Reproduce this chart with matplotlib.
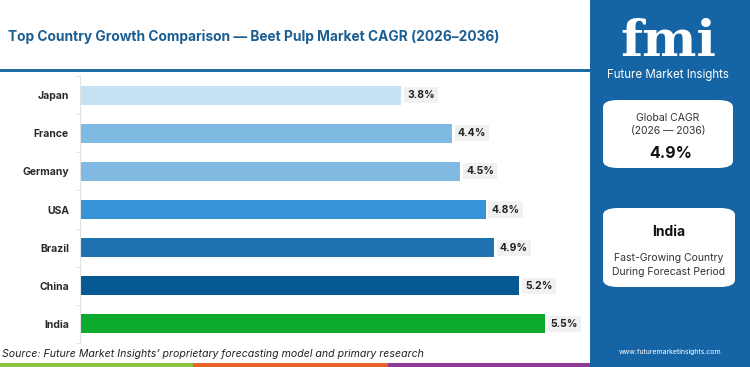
import matplotlib.pyplot as plt
from matplotlib.patches import Rectangle, FancyBboxPatch

# ── Data ──────────────────────────────────────────────────────────────────────
countries = ["Japan", "France", "Germany", "USA", "Brazil", "China", "India"]
cagr = [3.8, 4.4, 4.5, 4.8, 4.9, 5.2, 5.5]
bar_colors = ["#c4e2f3", "#7fbae2", "#80b9e1", "#3593d6", "#1f72b0", "#055a94", "#0aab2e"]
global_cagr = "4.9%"
top_country = "India"

TITLE = "Top Country Growth Comparison — Beet Pulp Market CAGR (2026–2036)"
SOURCE = "Source: Future Market Insights’ proprietary forecasting model and primary research"

W, H = 750, 367
PANEL = "#1565a6"
TITLE_C = "#1b5e92"

plt.rcParams["font.family"] = ["Inter", "DejaVu Sans"]

fig = plt.figure(figsize=(W / 100, H / 100), dpi=100)
fig.patch.set_facecolor("white")

def fx(px):
    return px / W

def fy(py):
    return 1 - py / H

# ── Title + rule ──────────────────────────────────────────────────────────────
fig.text(fx(8), fy(37), TITLE, fontsize=9.9, fontweight="bold", color=TITLE_C,
         ha="left", va="center")
fig.add_artist(Rectangle((0, fy(72)), fx(590), 3 / H, transform=fig.transFigure,
                         color="#1d6ba3", lw=0))

# ── Bars ──────────────────────────────────────────────────────────────────────
ax = fig.add_axes([fx(80), fy(343), fx(510), 267 / H])
y = list(range(len(countries)))
ax.barh(y, cagr, height=0.5, color=bar_colors)
ax.set_ylim(len(countries) - 0.5, -0.5)
ax.set_xlim(0, 510 / 84.5)
ax.set_yticks(y)
ax.set_yticklabels(countries, fontsize=7.5, fontweight="bold", color="#2a2a2a")
ax.set_yticks([i + 0.5 for i in range(-1, len(countries))], minor=True)
ax.tick_params(axis="y", which="major", length=0, pad=8)
ax.tick_params(axis="y", which="minor", length=3, color="#dddddd")
ax.set_xticks([])
for s in ["top", "right", "bottom"]:
    ax.spines[s].set_visible(False)
ax.spines["left"].set_color("#e2e2e2")

for yi, v in zip(y, cagr):
    ax.text(v + 0.07, yi, f"{v:.1f}%", va="center", ha="left", fontsize=7.5,
            fontweight="bold", color="#222222",
            bbox=dict(boxstyle="square,pad=0.3", fc="#f1f1f1", ec="none"))

# ── Source + bottom strip ─────────────────────────────────────────────────────
fig.text(fx(2), fy(354), SOURCE, fontsize=7.6, style="italic", color="#222222",
         ha="left", va="center")
for x0, x1, c in [(0, 193, "#8cc63f"), (193, 388, "#e8622a"), (388, 590, "#8e3a96")]:
    fig.add_artist(Rectangle((fx(x0), 0), fx(x1 - x0), 4 / H,
                             transform=fig.transFigure, color=c, lw=0))

# ── Right panel ───────────────────────────────────────────────────────────────
fig.add_artist(Rectangle((fx(590), 0), fx(160), 1, transform=fig.transFigure,
                         color=PANEL, lw=0))

fig.text(fx(668), fy(56), "fmi", fontsize=37, fontweight="bold", color="white",
         family="DejaVu Serif", ha="center", va="baseline")
for py in range(20, 57, 4):
    fig.add_artist(Rectangle((fx(612), fy(py)), fx(114), 1 / H,
                             transform=fig.transFigure, color=PANEL, lw=0))
fig.text(fx(668), fy(75), "Future Market Insights", fontsize=8.3, color="white",
         ha="center", va="center")

for (x0, y0, x1, y1) in [(603, 100, 733, 168), (603, 208, 735, 287)]:
    fig.add_artist(FancyBboxPatch((fx(x0), fy(y1)), fx(x1 - x0), (y1 - y0) / H,
                                  boxstyle="round,pad=0,rounding_size=0.02",
                                  transform=fig.transFigure, fc="white", ec="none"))

fig.text(fx(668), fy(118), "Global CAGR", fontsize=7.5, color="#333333",
         ha="center", va="center")
fig.text(fx(668), fy(131), "(2026 — 2036)", fontsize=7.5, color="#333333",
         ha="center", va="center")
fig.text(fx(671), fy(153), global_cagr, fontsize=11.5, fontweight="bold",
         color="#111111", ha="center", va="center")

fig.text(fx(669), fy(232), top_country, fontsize=10, fontweight="bold",
         color="#111111", ha="center", va="center")
fig.text(fx(669), fy(258), "Fast-Growing Country", fontsize=7.5, color="#333333",
         ha="center", va="center")
fig.text(fx(669), fy(272), "During Forecast Period", fontsize=7.5, color="#333333",
         ha="center", va="center")

fig.text(fx(670), fy(352), "www.futuremarketinsights.com", fontsize=5, color="white",
         ha="center", va="center")

fig.savefig("out.png", dpi=100, facecolor="white")
